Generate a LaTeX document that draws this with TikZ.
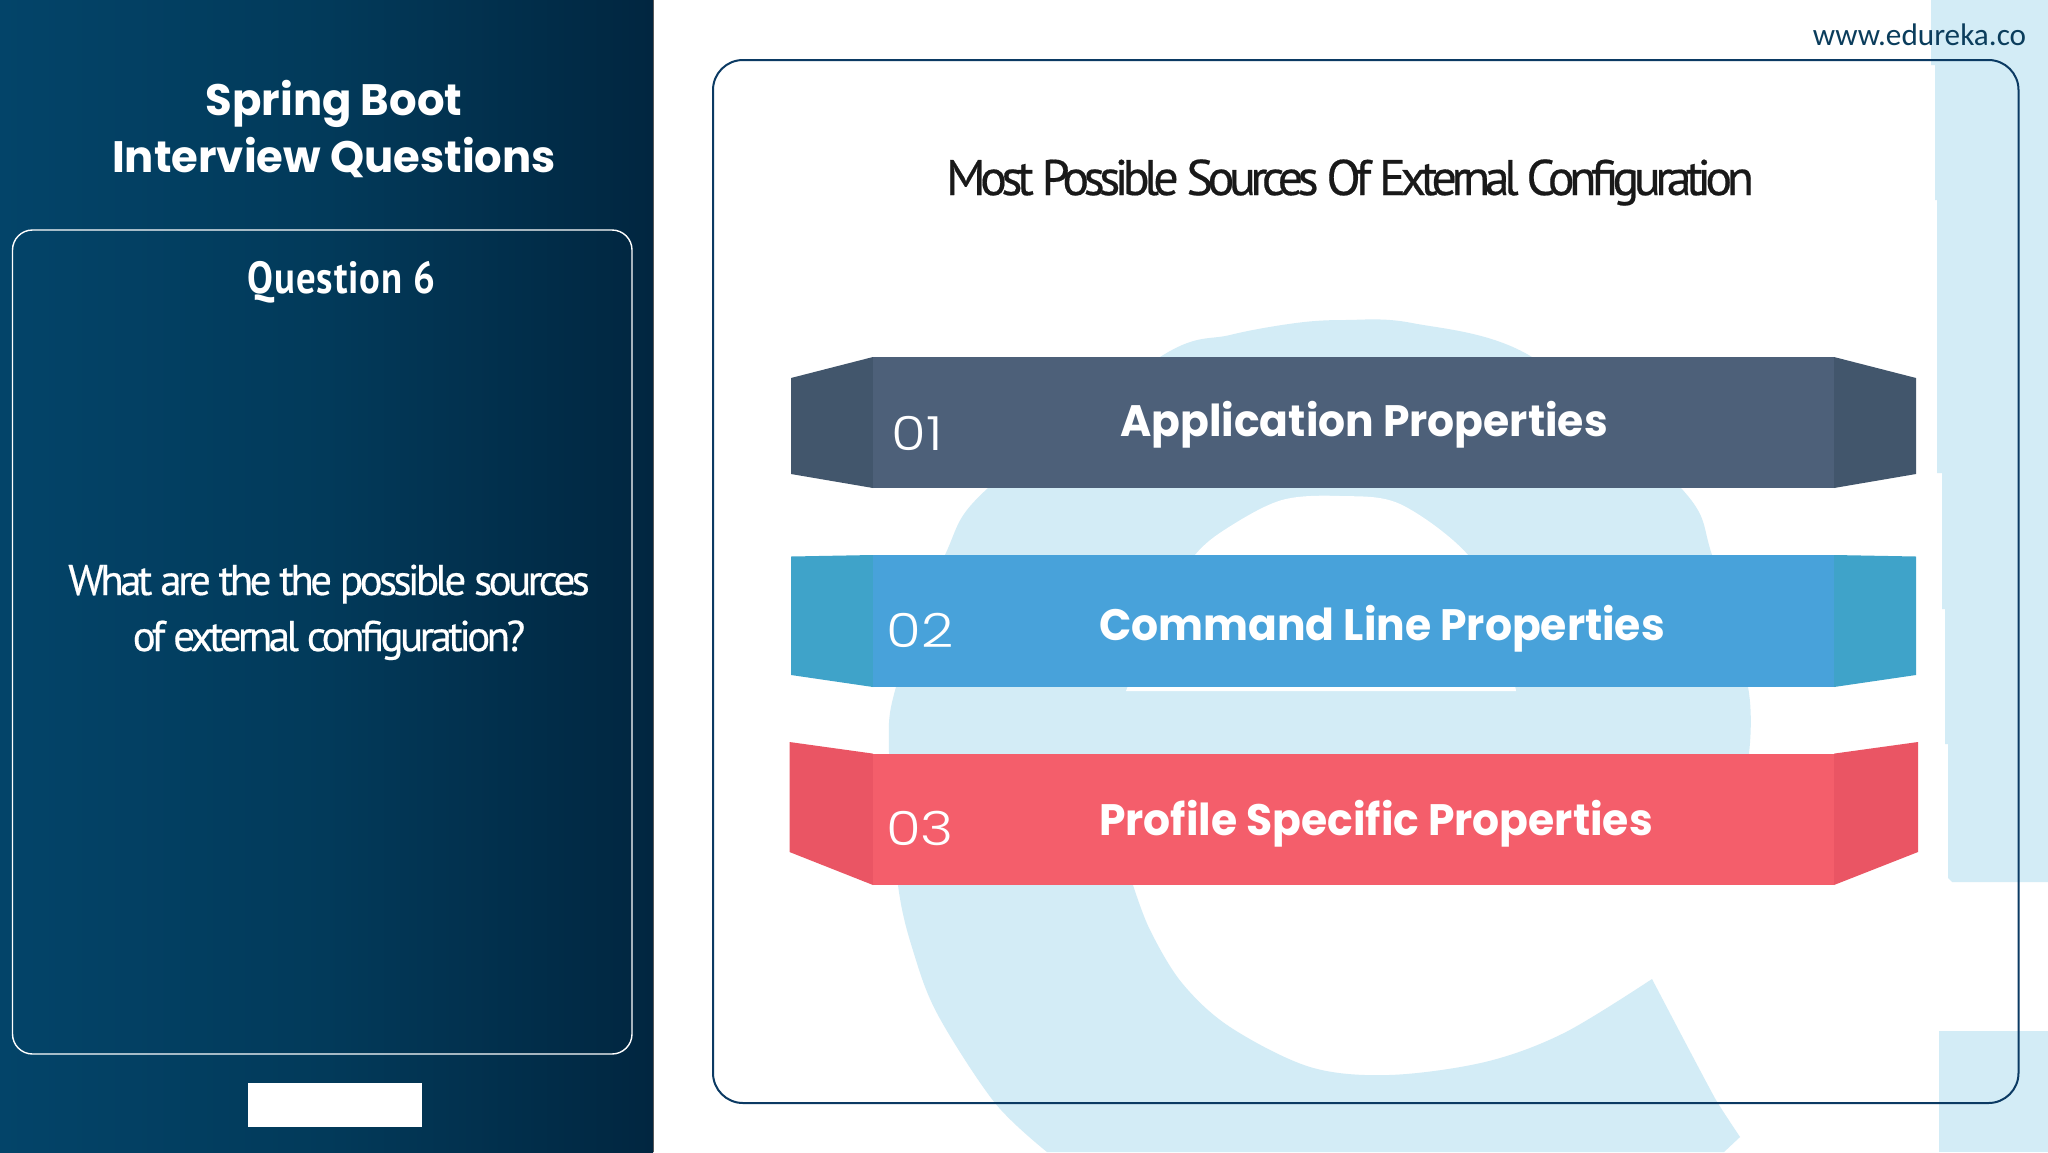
\documentclass[tikz,border=0pt]{standalone}
\usepackage{fontspec}
\setmainfont{Lato}
\newfontfamily\headfont[FakeStretch=0.965]{Poppins}[UprightFont=* Bold]
\newfontfamily\sidefont[FakeStretch=0.985]{Poppins}[UprightFont=* Bold]
\newfontfamily\dinfont[LetterSpace=-8.4,FakeBold=0.4]{PT Sans}
\newfontfamily\titlefont[LetterSpace=-11,FakeBold=0.4]{PT Sans}
\newfontfamily\qfont[FakeStretch=0.86,LetterSpace=2]{PT Sans Bold}
\newfontfamily\numfont[FakeStretch=1.2]{Poppins}[UprightFont=* Light]
\newfontfamily\urlfont{Carlito}
\definecolor{wm}{HTML}{D3ECF6}
\definecolor{frameblue}{HTML}{0B3A63}
\definecolor{urlc}{HTML}{0B3D5C}
\definecolor{ba}{HTML}{4D6079}\definecolor{bas}{HTML}{42566C}
\definecolor{bb}{HTML}{48A2DA}\definecolor{bbs}{HTML}{3FA3C9}
\definecolor{bc}{HTML}{F45E6B}\definecolor{bcs}{HTML}{EA5564}
\tikzset{
  headtxt/.style={anchor=base,text=white,inner sep=0pt,font=\headfont\fontsize{44}{44}\selectfont},
  sidetxt/.style={anchor=base,text=white,inner sep=0pt,font=\sidefont\fontsize{44}{44}\selectfont},
  numtxt/.style={anchor=base,text=white,inner sep=0pt,font=\numfont\fontsize{47}{47}\selectfont},
  dintxt/.style={anchor=base,text=white,inner sep=0pt,font=\dinfont\fontsize{43}{43}\selectfont},
}
\begin{document}
\begin{tikzpicture}[x=1pt,y=-1pt]
\useasboundingbox (0,0) rectangle (2048,1152);
\fill[white] (0,0) rectangle (2048,1152);
% watermark e
\fill[wm] plot[smooth,tension=.55] coordinates {(1047,1152)(995,1103)(939,1017)(915,957)(898,885)(889,753)(896,687)(945,555)(988,488)(1160,357)(1230,335)(1296,323)(1345,320)(1412,323)(1532,357)(1681,488)(1712,555)(1748,687)(1749,753)}
  -- (1749,800) -- (1133,800) -- (1133,885)
  -- plot[smooth,tension=.55] coordinates {(1133,885)(1150,930)(1182,983)(1230,1027)(1310,1067)(1389,1075)(1485,1062)(1564,1033)(1652,979)}
  -- plot[smooth,tension=.3] coordinates {(1652,979)(1684,1040)(1716,1100)(1740,1137)}
  -- (1724,1152) -- cycle;
\fill[white] plot[smooth,tension=.55] coordinates {(1126,691)(1160,610)(1195,555)(1229,527)(1282,500)(1340,496)(1400,504)(1468,555)(1500,620)(1516,691)} -- cycle;
% watermark bars
\fill[wm] (1931,0) -- (2048,0) -- (2048,882) -- (1952,882) -- (1948,878) -- (1948,744) -- (1945,744) -- (1945,609) -- (1942,609) -- (1942,473) -- (1937,473) -- (1937,200) -- (1935,200) -- (1935,65) -- (1931,65) -- cycle;
\fill[wm] (1939,1031) rectangle (2048,1152);
% left panel
\shade[left color={rgb,255:red,3;green,68;blue,105},right color={rgb,255:red,1;green,38;blue,64},middle color={rgb,255:red,2;green,58;blue,90}] (0,0) rectangle (653,1152);
\draw[gray!70!black,line width=1pt] (653.5,0) -- (653.5,1152);
\draw[white,line width=1.4pt,rounded corners=20pt] (12.5,230) rectangle (632,1054);
\fill[white] (248,1083) rectangle (422,1127);
% right frame
\draw[frameblue,line width=2pt,rounded corners=30pt] (713,60) rectangle (2018.5,1103);
% banners
\fill[bas] (791,378) -- (873,357) -- (873,488) -- (791,474) -- cycle;
\fill[bas] (1916,378) -- (1834,357) -- (1834,488) -- (1916,474) -- cycle;
\fill[ba] (873,357) rectangle (1834,488);
\fill[bbs] (791,556.5) -- (873,555) -- (873,687) -- (791,675) -- cycle;
\fill[bbs] (1916,556.5) -- (1834,555) -- (1834,687) -- (1916,675) -- cycle;
\fill[bb] (873,555) rectangle (1834,687);
\fill[bcs] (789.5,742) -- (873,753.6) -- (873,885) -- (789.5,852) -- cycle;
\fill[bcs] (1918,742) -- (1834,753.6) -- (1834,885) -- (1918,852) -- cycle;
\fill[bc] (873,753.6) rectangle (1834,885);
% texts
\node[sidetxt] (t1) at (334,115) {Spring Boot};
\node[sidetxt] (t2) at (334,172) {Interview Questions};
\node[anchor=base,text=white,inner sep=0pt,font=\qfont\fontsize{45}{45}\selectfont] (q) at (341.5,293) {Question 6};
\node[dintxt] (q1) at (329,595) {What are the the possible sources};
\node[dintxt] (q2) at (329,651) {of external configuration?};
\node[anchor=base,inner sep=0pt,text=black!90,font=\titlefont\fontsize{50}{50}\selectfont] (title) at (1350,195) {Most Possible Sources Of External Configuration};
\node[anchor=base,inner sep=0pt,text=urlc,font=\urlfont\fontsize{31.2}{31.2}\selectfont] (url) at (1919.5,45) {www.edureka.co};
\node[numtxt] (n1) at (917,450) {01};
\node[numtxt] (n2) at (920,647) {02};
\node[numtxt] (n3) at (920,845) {03};
\node[headtxt] (b1) at (1364,436) {Application Properties};
\node[headtxt] (b2) at (1382,640) {Command Line Properties};
\node[headtxt] (b3) at (1376,835) {Profile Specific Properties};
\end{tikzpicture}
\end{document}
